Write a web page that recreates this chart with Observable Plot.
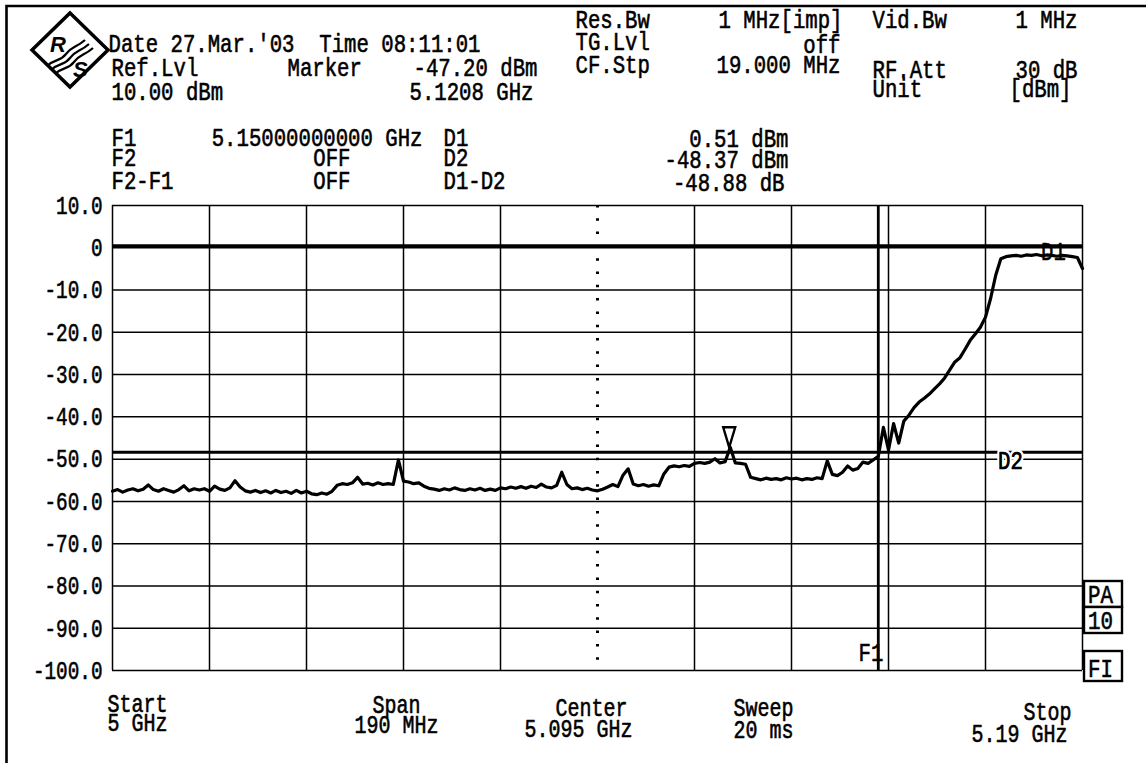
<!DOCTYPE html>
<html>
<head>
<meta charset="utf-8">
<script src="https://cdn.jsdelivr.net/npm/d3@7"></script>
<script src="https://cdn.jsdelivr.net/npm/@observablehq/plot@0.6"></script>
<style>
  html, body { margin: 0; background: #fff; }
  #chart { position: relative; width: 1146px; height: 763px; overflow: hidden; background: #fff; }
  #chart > svg { position: absolute; left: 0; top: 0; }
  svg text { white-space: pre; }
</style>
</head>
<body>
<div id="chart"></div>
<script>
// ---------------- Sweep data ----------------
const sweepStartGHz = 5.0;
const sweepStopGHz = 5.19;
const sweepStepMHz = 1;
// Trace level (dBm) at each 1 MHz step from 5.000 GHz to 5.190 GHz
const traceLevelsDbm = [
  -57.6, -57.2, -57.8, -57.3, -57.0, -57.5, -57.1, -56.1, -57.2, -57.6,
  -57.0, -57.4, -57.8, -57.2, -56.3, -57.5, -57.0, -57.3, -57.0, -57.6,
  -56.4, -57.1, -57.4, -56.8, -55.1, -56.6, -57.5, -57.8, -57.4, -57.9,
  -57.5, -58.0, -57.4, -57.9, -57.6, -58.1, -57.4, -58.0, -57.6, -58.2,
  -58.4, -58.0, -58.3, -57.6, -56.2, -55.8, -56.0, -55.6, -54.3, -55.9,
  -55.7, -56.1, -55.6, -56.0, -55.8, -56.0, -50.2, -55.2, -55.4, -55.8,
  -55.6, -56.4, -56.9, -57.1, -57.4, -57.0, -57.3, -56.8, -57.2, -57.4,
  -57.0, -57.3, -56.9, -57.4, -57.1, -57.4, -56.8, -57.0, -56.6, -56.9,
  -56.5, -56.9, -56.4, -56.7, -55.9, -56.6, -56.8, -56.2, -53.1, -56.0,
  -57.0, -56.8, -57.2, -56.9, -57.3, -57.5, -57.1, -56.6, -56.0, -56.5,
  -53.8, -52.3, -55.9, -56.3, -56.0, -56.4, -56.1, -56.3, -53.5, -51.9,
  -51.6, -51.8, -51.5, -51.7, -51.0, -50.8, -51.0, -50.7, -49.9, -50.9,
  -50.6, -47.2, -50.9, -51.0, -51.2, -54.3, -54.6, -54.9, -54.5, -54.8,
  -54.6, -54.9, -54.4, -54.7, -54.5, -54.9, -54.6, -54.8, -54.4, -54.6,
  -50.4, -53.6, -53.9, -53.1, -51.6, -52.6, -52.2, -50.7, -51.0, -50.2,
  -49.3, -42.5, -47.8, -41.6, -46.2, -41.0, -39.6, -37.8, -36.5, -35.6,
  -34.6, -33.4, -32.2, -30.8, -28.9, -27.0, -26.0, -24.0, -21.9, -20.4,
  -18.8, -16.4, -12.0, -6.5, -2.6, -2.1, -1.9, -1.8, -2.0, -1.7,
  -1.8, -1.6, -1.9, -1.7, -1.8, -2.0, -1.8, -1.9, -2.1, -2.3,
  -4.9
];

// Marker readout
const markerFreqGHz = 5.1208;
const markerLevelDbm = -47.20;

// Display lines D1 / D2 and frequency line F1
const displayLineNames = ["D1", "D2"];
const displayLineLevels = [0.51, -48.37];
const freqLineName = "F1";
const freqLineGHz = 5.15;

// Grid: 10 divisions of 19 MHz, 11 levels of 10 dB
const gridFreqsGHz = [5.000, 5.019, 5.038, 5.057, 5.076, 5.095, 5.114, 5.133, 5.152, 5.171, 5.190];
const centerFreqGHz = 5.095;
const levelTicks = [10, 0, -10, -20, -30, -40, -50, -60, -70, -80, -90, -100];

// Header readouts
const dateLine = "Date 27.Mar.'03  Time 08:11:01";
const refLevel = ["Ref.Lvl", "10.00 dBm"];
const markerTexts = ["Marker", "-47.20 dBm", "5.1208 GHz"];
const settingsLabels = ["Res.Bw", "TG.Lvl", "CF.Stp"];
const settingsValues = ["1 MHz[imp]", "off", "19.000 MHz"];
const settingsLabels2 = ["Vid.Bw", "RF.Att", "Unit"];
const settingsValues2 = ["1 MHz", "30 dB", "[dBm]"];
const lineLabels = ["F1", "F2", "F2-F1"];
const lineValues = ["5.15000000000 GHz", "OFF", "OFF"];
const deltaLabels = ["D1", "D2", "D1-D2"];
const deltaValues = ["0.51 dBm", "-48.37 dBm", "-48.88 dB"];

// Footer readouts
const footerLabels = ["Start", "Span", "Center", "Sweep", "Stop"];
const footerValues = ["5 GHz", "190 MHz", "5.095 GHz", "20 ms", "5.19 GHz"];

// Status boxes on the right
const statusBoxes = ["PA", "10", "FI"];

// ---------------- Layout ----------------
const W = 1146, H = 763;
const ML = 112, MR = 64, MT = 205, MB = 93;
const MONO = "'Liberation Mono', 'DejaVu Sans Mono', monospace";
const SANS = "'Liberation Sans', Arial, sans-serif";
const FS = 26;
const INK = 0.6; // slight stroke to thicken the thin mono glyphs

const trace = traceLevelsDbm.map((v, i) => ({
  f: sweepStartGHz + (i * sweepStepMHz) / 1000,
  v
}));

// Marker symbol: narrow downward triangle whose tip sits on the point
const markerSymbol = {
  draw(context, size) {
    const s = Math.sqrt(size / Math.PI);
    context.moveTo(0, 0);
    context.lineTo(-0.6 * s, -2 * s);
    context.lineTo(0.6 * s, -2 * s);
    context.closePath();
  }
};

// Text positioned in pixels on the page, through the frame's top-left anchor
function label(text, x, baseline, anchor = "start", cls = "hdr") {
  return Plot.text([text], {
    text: d => d,
    frameAnchor: "top-left",
    dx: x - ML,
    dy: baseline - MT,
    textAnchor: anchor,
    lineAnchor: "bottom",
    fontSize: FS,
    fill: "black",
    stroke: "black",
    strokeWidth: INK,
    className: cls
  });
}

const rowsFD = [145, 165, 188];
const headerMarks = [
  label(dateLine, 108, 51),
  label(refLevel[0], 111, 75),
  label(refLevel[1], 111, 99),
  label(markerTexts[0], 287, 75),
  label(markerTexts[1], 537, 75, "end"),
  label(markerTexts[2], 533, 99, "end"),
  // F / D block
  ...lineLabels.map((t, i) => label(t, 111, rowsFD[i])),
  label(lineValues[0], 422, rowsFD[0], "end"),
  label(lineValues[1], 350, rowsFD[1], "end"),
  label(lineValues[2], 350, rowsFD[2], "end"),
  ...deltaLabels.map((t, i) => label(t, 443, rowsFD[i])),
  label(deltaValues[0], 788, 146, "end"),
  label(deltaValues[1], 788, 167, "end"),
  label(deltaValues[2], 784, 190, "end"),
  // settings columns
  ...settingsLabels.map((t, i) => label(t, 575, [27, 49, 72][i])),
  label(settingsValues[0], 842, 27, "end"),
  label(settingsValues[1], 840, 52, "end"),
  label(settingsValues[2], 840, 72, "end"),
  ...settingsLabels2.map((t, i) => label(t, 872, [27, 77, 96][i])),
  label(settingsValues2[0], 1077, 27, "end"),
  label(settingsValues2[1], 1077, 77, "end"),
  label(settingsValues2[2], 1071, 96, "end")
];

const footerLayout = [
  [107, 711, "start", 107, 730, "start"],
  [396, 712, "middle", 396, 732, "middle"],
  [627, 715, "end", 632, 736, "end"],
  [733, 715, "start", 733, 737, "start"],
  [1071, 719, "end", 1067, 741, "end"]
];
const footerMarks = footerLabels.flatMap((t, i) => {
  const [x1, y1, a1, x2, y2, a2] = footerLayout[i];
  return [label(t, x1, y1, a1, "ftr"), label(footerValues[i], x2, y2, a2, "ftr")];
});

const fmtLevel = d => (d === 0 ? "0" : d.toFixed(1));

const plot = Plot.plot({
  width: W,
  height: H,
  marginLeft: ML,
  marginRight: MR,
  marginTop: MT,
  marginBottom: MB,
  style: { fontFamily: MONO, background: "transparent", overflow: "visible" },
  x: { domain: [sweepStartGHz, sweepStopGHz], axis: null },
  y: { domain: [-100, 10], axis: null },
  marks: [
    // grid
    Plot.ruleY(levelTicks, { stroke: "black", strokeWidth: 1.5 }),
    Plot.ruleX(gridFreqsGHz.filter(f => f !== centerFreqGHz), { stroke: "black", strokeWidth: 1.5 }),
    Plot.ruleX([centerFreqGHz], { stroke: "black", strokeWidth: 3, strokeDasharray: "2.5 10.8" }),
    // display lines and frequency line
    Plot.ruleY(displayLineLevels, { stroke: "black", strokeWidth: 2.8 }),
    Plot.ruleX([freqLineGHz], { stroke: "black", strokeWidth: 2.8 }),
    // trace
    Plot.line(trace, { x: "f", y: "v", stroke: "black", strokeWidth: 3.2, strokeLinejoin: "round" }),
    // marker
    Plot.dot([{ f: markerFreqGHz, v: markerLevelDbm }], {
      x: "f", y: "v", symbol: markerSymbol, r: 10,
      fill: "white", stroke: "black", strokeWidth: 2.4
    }),
    // line labels
    Plot.text([displayLineNames[0]], {
      text: d => d, y: displayLineLevels[0], frameAnchor: "right", dx: -29, dy: 6,
      textAnchor: "middle", lineAnchor: "middle", fontSize: FS, className: "hdr",
      fill: "black", stroke: "black", strokeWidth: INK
    }),
    Plot.text([displayLineNames[1]], {
      text: d => d, y: displayLineLevels[1], frameAnchor: "right", dx: -72, dy: 8,
      textAnchor: "middle", lineAnchor: "middle", fontSize: FS, className: "hdr",
      stroke: "white", strokeWidth: 6, fill: "black"
    }),
    Plot.text([displayLineNames[1]], {
      text: d => d, y: displayLineLevels[1], frameAnchor: "right", dx: -72, dy: 8,
      textAnchor: "middle", lineAnchor: "middle", fontSize: FS, className: "hdr",
      fill: "black", stroke: "black", strokeWidth: INK
    }),
    Plot.text([freqLineName], {
      text: d => d, x: freqLineGHz, frameAnchor: "bottom", dx: 5, dy: -10,
      textAnchor: "end", lineAnchor: "bottom", fontSize: FS, className: "hdr",
      fill: "black", stroke: "black", strokeWidth: INK
    }),
    // level labels
    Plot.text(levelTicks, {
      y: d => d, text: fmtLevel, frameAnchor: "left", dx: -10,
      textAnchor: "end", lineAnchor: "middle", fontSize: FS, className: "tick",
      fill: "black", stroke: "black", strokeWidth: INK
    }),
    ...headerMarks,
    ...footerMarks
  ]
});

// Condensed fixed-pitch look of the instrument font
const advance = { hdr: 12.4, ftr: 12, tick: 11.6 };
for (const [cls, adv] of Object.entries(advance)) {
  plot.querySelectorAll(`g.${cls} text`).forEach(t => {
    const n = [...t.textContent].length;
    t.setAttribute("textLength", (n * adv).toFixed(1));
    t.setAttribute("lengthAdjust", "spacingAndGlyphs");
  });
}

const chart = document.getElementById("chart");
chart.appendChild(plot);

// Frame border, maker logo and status boxes
const deco = d3.select(chart).append("svg")
  .attr("width", W).attr("height", H)
  .style("font-family", MONO);

deco.append("path").attr("d", `M6.5,${H} V6 H${W}`)
  .attr("fill", "none").attr("stroke", "black").attr("stroke-width", 2.6);

const logo = deco.append("g");
logo.append("polygon").attr("points", "70,13 108,50 70,87 32,50")
  .attr("fill", "none").attr("stroke", "black").attr("stroke-width", 3.5);
["M47,66 C56,58 60,62 66,54 S76,48 85,40",
 "M51,70 C60,62 64,66 70,58 S80,52 89,44",
 "M55,74 C64,66 68,70 74,62 S84,56 93,48"].forEach(d =>
  logo.append("path").attr("d", d).attr("fill", "none").attr("stroke", "black").attr("stroke-width", 2.2));
logo.append("text").attr("x", 50).attr("y", 52).attr("font-size", 22).attr("font-weight", "bold")
  .attr("font-family", SANS).attr("font-style", "italic").text("R");
logo.append("text").attr("x", 73).attr("y", 77).attr("font-size", 22).attr("font-weight", "bold")
  .attr("font-family", SANS).attr("font-style", "italic").text("S");

const boxes = [[581, 607], [607, 633], [651, 681]];
statusBoxes.forEach((t, i) => {
  const [y0, y1] = boxes[i];
  deco.append("rect").attr("x", 1084).attr("y", y0).attr("width", 38).attr("height", y1 - y0)
    .attr("fill", "white").attr("stroke", "black").attr("stroke-width", 2.4);
  deco.append("text").attr("x", 1088).attr("y", y1 - 4).attr("font-size", FS)
    .attr("stroke", "black").attr("stroke-width", INK)
    .attr("textLength", 25).attr("lengthAdjust", "spacingAndGlyphs").text(t);
});
</script>
</body>
</html>
